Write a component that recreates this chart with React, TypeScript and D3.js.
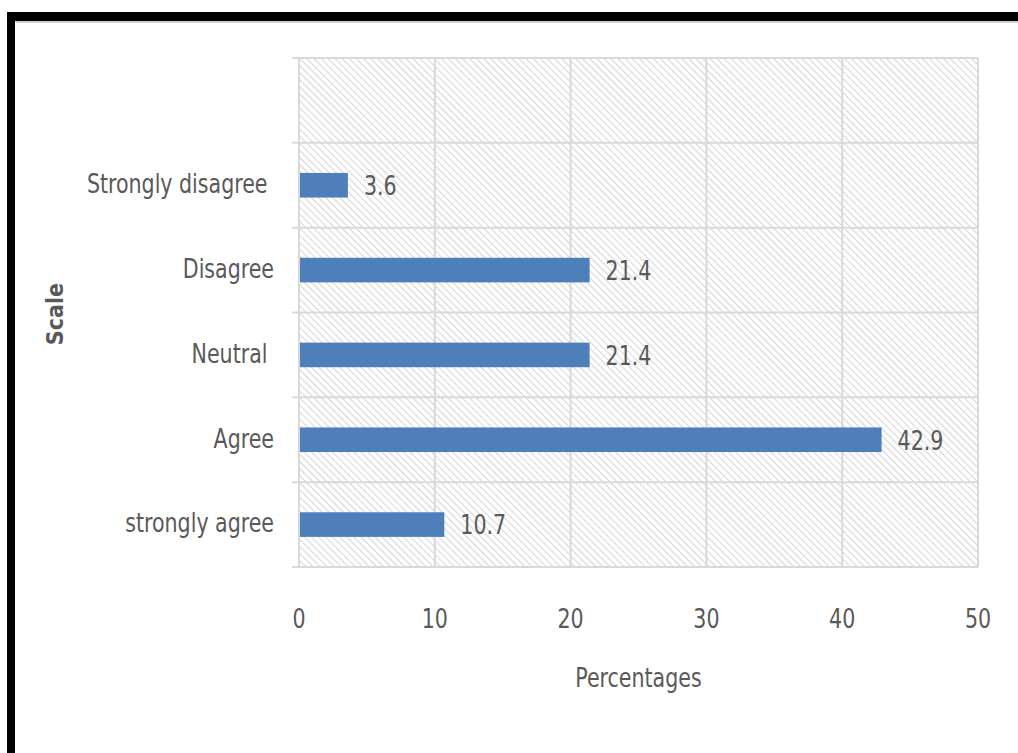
import React from "react";
import * as d3 from "d3";

const categories = ["", "Strongly disagree ", "Disagree", "Neutral ", "Agree", "strongly agree"];
const values: (number | null)[] = [null, 3.6, 21.4, 21.4, 42.9, 10.7];
const xTicks = [0, 10, 20, 30, 40, 50];
const xTitle = "Percentages";
const yTitle = "Scale";

const W = 1018;
const H = 753;
const plot = { left: 299, right: 978, top: 58, bottom: 567 };
const FONT = "'Liberation Sans Narrow', 'Arial Narrow', 'DejaVu Sans Condensed', sans-serif";
const TEXT = "#595959";
const GRID = "#d9d9d9";
const SX = 0.88;

function T(props: {
  x: number;
  y: number;
  anchor?: "start" | "middle" | "end";
  dy?: string;
  size?: number;
  bold?: boolean;
  children: React.ReactNode;
}) {
  return (
    <g transform={`translate(${props.x},${props.y}) scale(${SX},1)`}>
      <text
        x={0}
        y={0}
        dy={props.dy}
        textAnchor={props.anchor || "start"}
        fontFamily={FONT}
        fontSize={props.size || 26}
        fontWeight={props.bold ? "bold" : "normal"}
        fill={TEXT}
        style={{ whiteSpace: "pre" }}
      >
        {props.children}
      </text>
    </g>
  );
}

export default function App() {
  const x = d3.scaleLinear().domain([0, 50]).range([plot.left, plot.right]);
  const y = d3.scaleBand<string>().domain(categories).range([plot.top, plot.bottom]).padding(0);
  const bw = y.bandwidth();
  const barH = bw * 0.29;
  const boundaries = d3.range(categories.length + 1).map((i) => plot.top + i * bw);

  return (
    <svg width={W} height={H} style={{ position: "absolute", left: 0, top: 0, background: "#fff" }}>
      <defs>
        <pattern id="hatch" width="5" height="5" patternUnits="userSpaceOnUse" patternTransform="rotate(-45)">
          <line x1="0" y1="0" x2="0" y2="5" stroke="#d6d6d6" strokeWidth="2.2" />
        </pattern>
      </defs>
      {/* frame */}
      <rect x={7} y={12} width={W - 7} height={9} fill="#000" />
      <rect x={16} y={21} width={W - 16} height={2} fill="#d0d0d0" />
      <rect x={7} y={12} width={8} height={H - 12} fill="#000" />

      {/* plot background */}
      <rect x={plot.left} y={plot.top} width={plot.right - plot.left} height={plot.bottom - plot.top} fill="url(#hatch)" />

      {/* vertical gridlines */}
      {xTicks.map((t) => (
        <line key={"vg" + t} x1={x(t)} x2={x(t)} y1={plot.top} y2={plot.bottom} stroke={GRID} strokeWidth={2} />
      ))}
      {/* horizontal category boundaries with ticks */}
      {boundaries.map((b, i) => (
        <line key={"hb" + i} x1={plot.left - 7} x2={plot.right} y1={b} y2={b} stroke={GRID} strokeWidth={2} />
      ))}

      {/* bars */}
      {categories.map((c, i) => {
        const v = values[i];
        if (v == null) return null;
        const cy = (y(c) as number) + bw / 2;
        return (
          <g key={"bar" + i}>
            <rect x={x(0) + 1} y={cy - barH / 2} width={x(v) - x(0) - 1} height={barH} fill="#4f7fbb" />
            <T x={x(v) + 16} y={cy} dy="0.38em">
              {v.toFixed(1)}
            </T>
          </g>
        );
      })}

      {/* category labels */}
      {categories.map((c, i) => (
        <T key={"cl" + i} x={274} y={(y(c) as number) + bw / 2} dy="0.3em" anchor="end">
          {c}
        </T>
      ))}

      {/* x tick labels */}
      {xTicks.map((t) => (
        <T key={"xt" + t} x={x(t)} y={628} anchor="middle">
          {t}
        </T>
      ))}

      {/* axis titles */}
      <T x={(plot.left + plot.right) / 2} y={687} anchor="middle">
        {xTitle}
      </T>
      <g transform="translate(63, 314) rotate(-90)">
        <text x={0} y={0} textAnchor="middle" fontFamily={FONT} fontSize={23} fontWeight="bold" fill={TEXT}>
          {yTitle}
        </text>
      </g>
    </svg>
  );
}
